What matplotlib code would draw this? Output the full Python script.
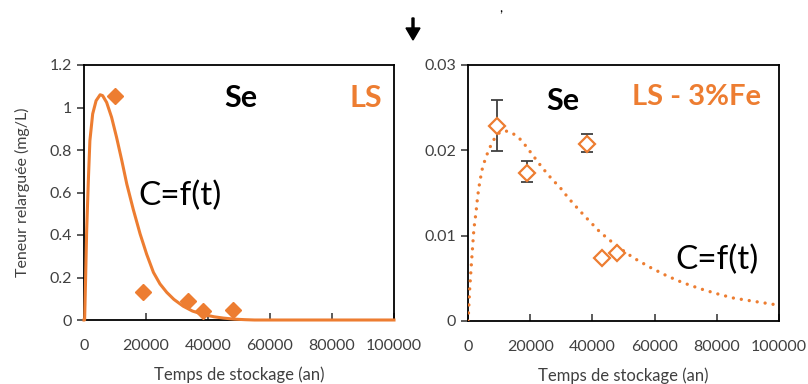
import matplotlib
matplotlib.use("Agg")
import matplotlib.pyplot as plt
from matplotlib.ticker import FuncFormatter

plt.rcParams['font.family'] = ['Lato', 'DejaVu Sans']

ORANGE = '#ED7D31'
GREY = '#404040'

# Panneau gauche : LS
ls_t = [10000, 19100, 33600, 38500, 48200]
ls_c = [1.056, 0.130, 0.091, 0.044, 0.048]
ls_fit_t = [0, 200, 500, 860, 1400, 1900, 2800, 3900, 5200, 6000, 7300, 8900,
            10500, 12200, 13800, 15900, 18100, 19100, 20200, 22400, 24500,
            26700, 29000, 32000, 35000, 38500, 42000, 45000, 48500, 52000,
            55000, 100000]
ls_fit_c = [0, 0.0, 0.185, 0.42, 0.656, 0.844, 0.97, 1.032, 1.06, 1.056, 1.024,
            0.954, 0.86, 0.75, 0.64, 0.52, 0.405, 0.36, 0.31, 0.224, 0.17,
            0.13, 0.097, 0.065, 0.042, 0.026, 0.015, 0.009, 0.004, 0.0015,
            0, 0]

# Panneau droit : LS - 3%Fe
fe_t = [9300, 18900, 38400, 43100, 47900]
fe_c = [0.0228, 0.0174, 0.0208, 0.00744, 0.00795]
fe_err_lo = [0.0029, 0.0011, 0.0010, 0.0, 0.0]
fe_err_hi = [0.0031, 0.0013, 0.0011, 0.0, 0.0]
fe_fit_t = [0, 200, 500, 1000, 1500, 1900, 2600, 3100, 3700, 4500, 5400, 6400,
            7500, 8700, 9900, 11800, 13900, 16300, 18400, 21100, 23800, 26800,
            29700, 32300, 35000, 37500, 42500, 47800, 53200, 58500, 63900,
            69000, 74500, 80000, 85200, 92000, 99100]
fe_fit_c = [0, 0.0012, 0.0035, 0.0062, 0.0088, 0.0108, 0.0128, 0.0146, 0.0161,
            0.0177, 0.0188, 0.0198, 0.0207, 0.0215, 0.022, 0.0223, 0.0221,
            0.0215, 0.0206, 0.0193, 0.018, 0.0167, 0.0156, 0.0144, 0.0133,
            0.0123, 0.0104, 0.0088, 0.0074, 0.0063, 0.0053, 0.0045, 0.0038,
            0.0032, 0.0027, 0.0023, 0.0019]

x_ticks = [0, 20000, 40000, 60000, 80000, 100000]

fig = plt.figure(figsize=(8.08, 3.84), dpi=100)
W, H = 808, 384
ax1 = fig.add_axes([84 / W, 1 - 320 / H, 310 / W, 255 / H])
ax2 = fig.add_axes([468 / W, 1 - 321 / H, 311 / W, 256 / H])


def style(ax):
    for s in ax.spines.values():
        s.set_linewidth(1.3)
        s.set_color('black')
    ax.tick_params(axis='x', direction='in', length=5, width=1.2,
                   labelsize=11.5, pad=14, colors=GREY)
    ax.tick_params(axis='y', direction='out', length=5, width=1.2,
                   labelsize=11.5, colors=GREY)
    ax.set_xlim(0, 100000)
    ax.set_xticks(x_ticks)
    ax.xaxis.set_major_formatter(FuncFormatter(lambda v, p: f'{int(v)}'))
    ax.set_xlabel('Temps de stockage (an)', fontsize=12, color=GREY, labelpad=9)


# gauche
ax1.plot(ls_fit_t, ls_fit_c, color=ORANGE, lw=2.2, clip_on=False, zorder=3,
         solid_joinstyle='round')
ax1.plot(ls_t, ls_c, linestyle='none', marker='D', ms=8, color=ORANGE, zorder=4)
ax1.set_ylim(0, 1.2)
ax1.set_yticks([0, 0.2, 0.4, 0.6, 0.8, 1.0, 1.2])
ax1.yaxis.set_major_formatter(FuncFormatter(lambda v, p: f'{v:g}'))
style(ax1)
ax1.set_ylabel('Teneur relarguée (mg/L)', fontsize=11.5, color=GREY, labelpad=14)
ax1.text(0.505, 0.87, 'Se', transform=ax1.transAxes, fontsize=22,
         fontweight='bold', ha='center', va='center')
ax1.text(0.91, 0.87, 'LS', transform=ax1.transAxes, fontsize=22,
         fontweight='bold', ha='center', va='center', color=ORANGE)
ax1.text(0.31, 0.485, 'C=f(t)', transform=ax1.transAxes, fontsize=24,
         ha='center', va='center')

# droite
ax2.plot(fe_fit_t, fe_fit_c, color=ORANGE, lw=2.4, linestyle=(0, (0.01, 2.4)),
         dash_capstyle='round', zorder=3)
ax2.errorbar(fe_t, fe_c, yerr=[fe_err_lo, fe_err_hi], fmt='none',
             ecolor=GREY, elinewidth=1.3, capsize=4, capthick=1.3, zorder=4)
ax2.plot(fe_t, fe_c, linestyle='none', marker='D', ms=8.5, mfc='white',
         mec=ORANGE, mew=1.6, zorder=5)
ax2.set_ylim(0, 0.03)
ax2.set_yticks([0, 0.01, 0.02, 0.03])
ax2.yaxis.set_major_formatter(FuncFormatter(lambda v, p: f'{v:g}'))
style(ax2)
ax2.text(0.305, 0.86, 'Se', transform=ax2.transAxes, fontsize=22,
         fontweight='bold', ha='center', va='center')
ax2.text(0.735, 0.875, 'LS - 3%Fe', transform=ax2.transAxes, fontsize=21,
         fontweight='bold', ha='center', va='center', color=ORANGE)
ax2.text(0.80, 0.24, 'C=f(t)', transform=ax2.transAxes, fontsize=24,
         ha='center', va='center')

# flèche et fragment de texte en haut
fig.add_artist(matplotlib.patches.FancyArrow(
    413 / W, 1 - 18 / H, 0, -22 / H, width=2 / W, head_width=14 / W,
    head_length=12 / H, length_includes_head=True, color='black',
    transform=fig.transFigure))
fig.text(501 / W, 1 - 2 / H, ',', fontsize=10, ha='center', va='top')

fig.savefig('out.png', dpi=100)
